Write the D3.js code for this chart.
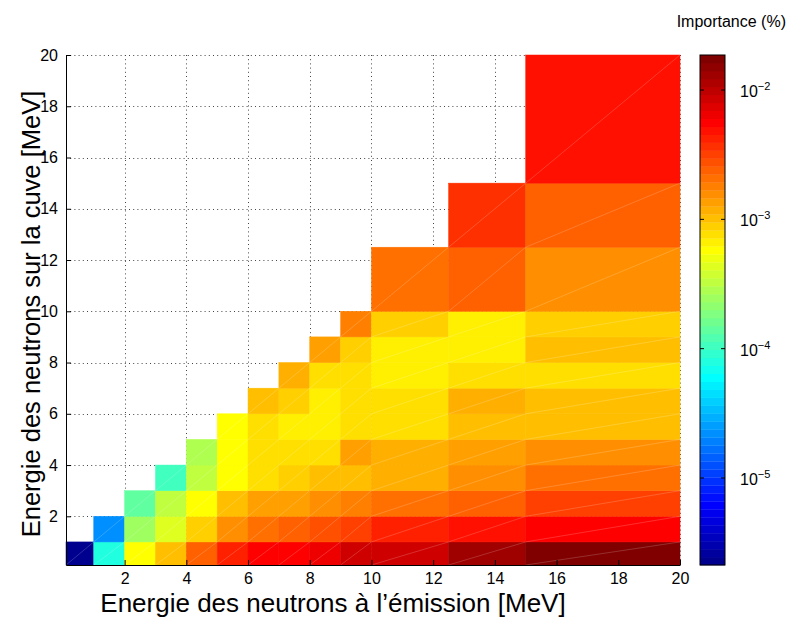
<!DOCTYPE html>
<html><head><meta charset="utf-8">
<script src="https://cdn.jsdelivr.net/npm/d3@7/dist/d3.min.js"></script>
<style>
body{margin:0;background:#fff}
text{font-family:"Liberation Sans",Arial,Helvetica,sans-serif;fill:#000}
</style>
</head><body>
<svg id="chart" width="790" height="617"></svg>
<script>
// ---- data ----
const binEdges = [0.1, 1, 2, 3, 4, 5, 6, 7, 8, 9, 10, 12.5, 15, 20];
const axisTicks = [2, 4, 6, 8, 10, 12, 14, 16, 18, 20];
const colorbarTicks = [1e-5, 1e-4, 1e-3, 1e-2];
const colorbarExponents = ["\u22125", "\u22124", "\u22123", "\u22122"];
const colorLimitsLog10 = [-5.673, -1.729];
// importance (%) per emission-energy bin; entries are tank-energy bins 0..i
const importance = [
  [2.28e-6],
  [7.9e-5, 2.2e-5],
  [5.8e-4, 2.46e-4, 1.40e-4],
  [1.02e-3, 4.35e-4, 3.27e-4, 1.05e-4],
  [2.39e-3, 8.85e-4, 5.78e-4, 3.27e-4, 2.84e-4],
  [4.21e-3, 1.56e-3, 1.02e-3, 5.78e-4, 5.78e-4, 5.78e-4],
  [5.59e-3, 2.07e-3, 1.35e-3, 7.67e-4, 7.67e-4, 7.67e-4, 1.02e-3],
  [5.59e-3, 2.39e-3, 1.35e-3, 8.85e-4, 7.67e-4, 6.65e-4, 8.85e-4, 1.17e-3],
  [6.44e-3, 2.75e-3, 1.56e-3, 1.02e-3, 7.67e-4, 6.65e-4, 6.65e-4, 7.67e-4, 1.35e-3],
  [8.55e-3, 3.17e-3, 1.80e-3, 1.02e-3, 1.35e-3, 7.67e-4, 7.67e-4, 7.67e-4, 8.85e-4, 1.80e-3],
  [8.55e-3, 4.21e-3, 2.07e-3, 1.17e-3, 1.17e-3, 7.67e-4, 7.67e-4, 6.65e-4, 6.65e-4, 8.85e-4, 2.07e-3],
  [1.31e-2, 4.85e-3, 2.39e-3, 1.56e-3, 1.35e-3, 1.02e-3, 1.17e-3, 7.67e-4, 6.65e-4, 6.65e-4, 2.39e-3, 3.65e-3],
  [1.74e-2, 5.59e-3, 3.17e-3, 2.07e-3, 1.56e-3, 1.02e-3, 1.02e-3, 7.67e-4, 1.02e-3, 8.85e-4, 1.56e-3, 2.39e-3, 4.85e-3]
];
const xLabel = "Energie des neutrons \u00e0 l\u2019\u00e9mission [MeV]";
const yLabel = "Energie des neutrons sur la cuve [MeV]";
const cbLabel = "Importance (%)";

// ---- jet(64) colormap ----
function jet64() {
  const out = [];
  for (let i = 1; i <= 64; i++) {
    let r, g, b;
    r = i <= 24 ? 0 : i <= 40 ? (i - 24) / 16 : i <= 56 ? 1 : 1 - (i - 56) / 16;
    g = i <= 8 ? 0 : i <= 24 ? (i - 8) / 16 : i <= 40 ? 1 : i <= 56 ? 1 - (i - 40) / 16 : 0;
    b = i <= 8 ? 0.5 + i / 16 : i <= 24 ? 1 : i <= 40 ? 1 - (i - 24) / 16 : 0;
    out.push(d3.rgb(r * 255, g * 255, b * 255).formatHex());
  }
  return out;
}
const jetColors = jet64();
const colorScale = d3.scaleQuantize().domain(colorLimitsLog10).range(jetColors);

// ---- layout ----
const P = {left: 66, top: 55, right: 680, bottom: 565};
const CB = {left: 700, width: 25};
const svg = d3.select("#chart");
const x = d3.scaleLinear().domain([binEdges[0], binEdges[binEdges.length - 1]]).range([P.left, P.right]);
const y = d3.scaleLinear().domain([binEdges[0], binEdges[binEdges.length - 1]]).range([P.bottom, P.top]);

// grid (under cells)
const grid = svg.append("g").attr("stroke", "#444").attr("stroke-width", 1).attr("stroke-dasharray", "1,3.2");
grid.selectAll("line.v").data(axisTicks).join("line")
  .attr("x1", d => Math.round(x(d)) + 0.5).attr("x2", d => Math.round(x(d)) + 0.5)
  .attr("y1", P.top).attr("y2", P.bottom);
grid.selectAll("line.h").data(axisTicks).join("line")
  .attr("y1", d => Math.round(y(d)) + 0.5).attr("y2", d => Math.round(y(d)) + 0.5)
  .attr("x1", P.left).attr("x2", P.right);

// cells
const cells = [];
importance.forEach((col, i) => col.forEach((v, j) => cells.push({i, j, v})));
const cg = svg.append("g");
cg.selectAll("rect").data(cells).join("rect")
  .attr("x", d => x(binEdges[d.i]))
  .attr("y", d => y(binEdges[d.j + 1]))
  .attr("width", d => x(binEdges[d.i + 1]) - x(binEdges[d.i]))
  .attr("height", d => y(binEdges[d.j]) - y(binEdges[d.j + 1]))
  .attr("fill", d => colorScale(Math.log10(d.v)))
  .attr("stroke", d => colorScale(Math.log10(d.v)))
  .attr("stroke-width", 0.5);
// faint triangle seams
cg.selectAll("line").data(cells).join("line")
  .attr("x1", d => x(binEdges[d.i])).attr("y1", d => y(binEdges[d.j]))
  .attr("x2", d => x(binEdges[d.i + 1])).attr("y2", d => y(binEdges[d.j + 1]))
  .attr("stroke", "#fff").attr("stroke-opacity", 0.3).attr("stroke-width", 0.6);

// axes
const xAxis = d3.axisBottom(x).tickValues(axisTicks).tickSizeInner(-5).tickSizeOuter(0).tickPadding(8);
const yAxis = d3.axisLeft(y).tickValues(axisTicks).tickSizeInner(-5).tickSizeOuter(0).tickPadding(8);
const gx = svg.append("g").attr("transform", `translate(0,${P.bottom})`).call(xAxis);
const gy = svg.append("g").attr("transform", `translate(${P.left},0)`).call(yAxis);
[gx, gy].forEach(g => {
  g.selectAll("text").style("font-size", "16px").attr("fill", "#000");
  g.selectAll("line").attr("stroke", "#000");
  g.select(".domain").attr("stroke", "#000");
});

// axis titles
svg.append("text").attr("x", 333).attr("y", 612).attr("text-anchor", "middle")
  .style("font-size", "26px").text(xLabel);
svg.append("text").attr("transform", "translate(40,314) rotate(-90)").attr("text-anchor", "middle")
  .style("font-size", "25.5px").text(yLabel);

// colorbar
const cb = d3.scaleLinear().domain(colorLimitsLog10).range([P.bottom, P.top]);
const bandH = (P.bottom - P.top) / jetColors.length;
svg.append("g").selectAll("rect").data(jetColors).join("rect")
  .attr("x", CB.left).attr("width", CB.width)
  .attr("y", (c, k) => cb(colorLimitsLog10[0] + (k + 1) * (colorLimitsLog10[1] - colorLimitsLog10[0]) / 64))
  .attr("height", bandH + 0.3)
  .attr("fill", c => c);
svg.append("rect").attr("x", CB.left).attr("y", P.top).attr("width", CB.width).attr("height", P.bottom - P.top)
  .attr("fill", "none").attr("stroke", "#000").attr("stroke-width", 1);
const cbt = svg.append("g");
colorbarTicks.forEach((t, k) => {
  const yy = cb(Math.log10(t));
  cbt.append("line").attr("x1", CB.left).attr("x2", CB.left + 4).attr("y1", yy).attr("y2", yy).attr("stroke", "#000");
  cbt.append("line").attr("x1", CB.left + CB.width - 4).attr("x2", CB.left + CB.width).attr("y1", yy).attr("y2", yy).attr("stroke", "#000");
  const tx = cbt.append("text").attr("x", CB.left + CB.width + 15).attr("y", yy + 7).style("font-size", "16px");
  tx.append("tspan").text("10");
  tx.append("tspan").attr("dy", -7).style("font-size", "11px").text(colorbarExponents[k]);
});
svg.append("text").attr("x", 786).attr("y", 27).attr("text-anchor", "end").style("font-size", "16px").text(cbLabel);
</script>
</body></html>
